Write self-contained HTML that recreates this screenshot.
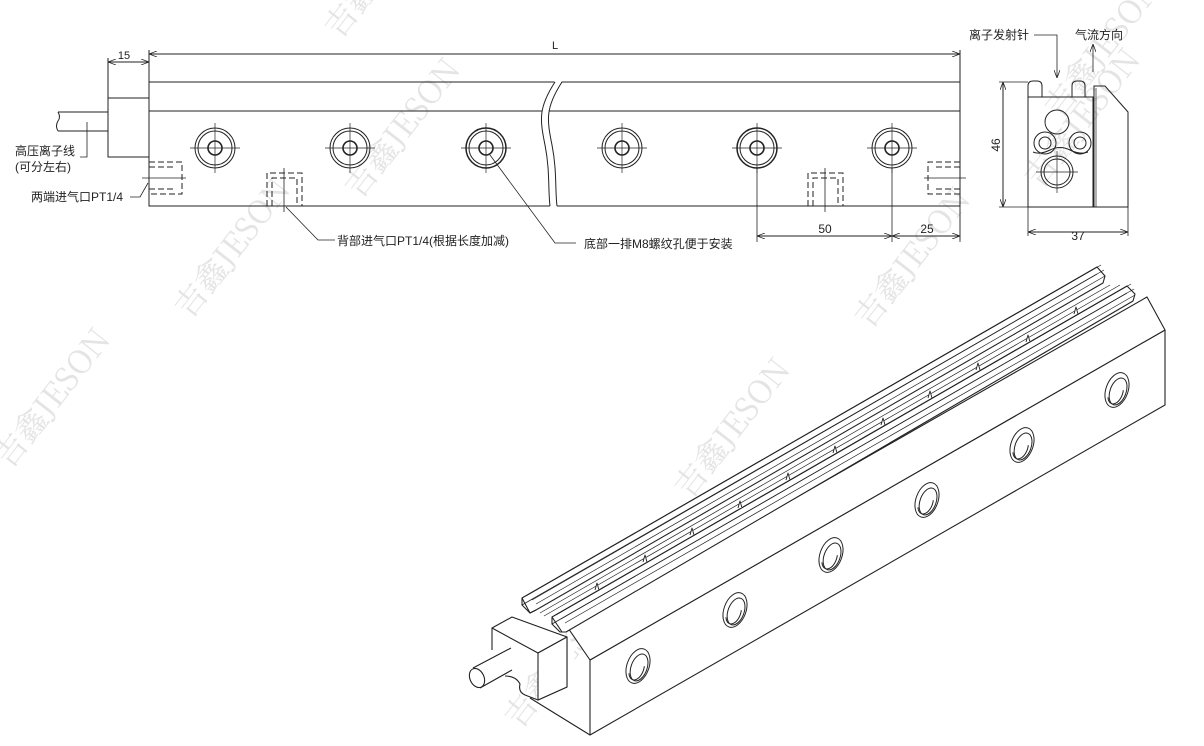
<!DOCTYPE html>
<html><head><meta charset="utf-8"><style>
html,body{margin:0;padding:0;background:#fff;}
svg{display:block;font-family:"Liberation Sans","Noto Sans CJK SC",sans-serif;}
</style></head><body>
<svg width="1204" height="746" viewBox="0 0 1204 746" xmlns="http://www.w3.org/2000/svg">
<defs>
<marker id="ar" markerWidth="8" markerHeight="6" refX="8" refY="3" orient="auto-start-reverse" markerUnits="userSpaceOnUse"><path d="M0,0 L8,3 L0,6" fill="none" stroke="#222" stroke-width="0.8"/></marker>
</defs>
<!-- watermarks -->
<g fill="#e4e4e4" font-family="'Noto Serif CJK SC','Liberation Serif',serif" font-size="32">
<text transform="translate(10,470) rotate(-52)">吉鑫JESON</text>
<text transform="translate(190,320) rotate(-52)">吉鑫JESON</text>
<text transform="translate(360,200) rotate(-52)">吉鑫JESON</text>
<text transform="translate(340,40) rotate(-52)">吉鑫JESON</text>
<text transform="translate(690,500) rotate(-52)">吉鑫JESON</text>
<text transform="translate(870,330) rotate(-52)">吉鑫JESON</text>
<text transform="translate(1040,190) rotate(-52)">吉鑫JESON</text>
<text transform="translate(1060,120) rotate(-52)">吉鑫JESON</text>
<text transform="translate(520,730) rotate(-52)">吉鑫JESON</text>
</g>

<g stroke="#222" stroke-width="1" fill="none">
<line x1="149" y1="54" x2="960" y2="54" marker-start="url(#ar)" marker-end="url(#ar)"/>
<line x1="149" y1="50" x2="149" y2="82"/>
<line x1="960" y1="50" x2="960" y2="82"/>
<line x1="108" y1="62" x2="149" y2="62" marker-start="url(#ar)" marker-end="url(#ar)"/>
<line x1="108" y1="58" x2="108" y2="98"/>
<rect x="149" y="82" width="811" height="124"/>
<line x1="149" y1="111" x2="960" y2="111"/>
<rect x="108" y="98" width="41" height="59"/>
<line x1="58" y1="112" x2="108" y2="112"/>
<line x1="58" y1="131" x2="108" y2="131"/>
<path d="M58 112 q3 5 0 9 q-3 5 0 10"/>
<polyline points="87,122 87,157 80,157" stroke-width="0.8"/>
<g stroke-dasharray="6,3">
<polyline points="149,162 182,162 182,194 149,194"/>
<polyline points="149,167 176,167"/>
<polyline points="149,189 176,189"/>
<polyline points="960,162 928,162 928,194 960,194"/>
<polyline points="960,167 934,167"/>
<polyline points="960,189 934,189"/>
<polyline points="267,206 267,173 302,173 302,206"/>
<polyline points="272,206 272,178 297,178 297,206"/>
<polyline points="808,206 808,173 843,173 843,206"/>
<polyline points="813,206 813,178 838,178 838,206"/>
</g>
<g stroke-width="0.8">
<line x1="142" y1="178" x2="186" y2="178"/>
<line x1="924" y1="178" x2="966" y2="178"/>
<line x1="284" y1="168" x2="284" y2="212"/>
<line x1="825" y1="168" x2="825" y2="212"/>
</g>
<polyline points="148,183 140,197 130,197" stroke-width="0.8"/>
<polyline points="286,207 318,240 335,240" stroke-width="0.8"/>
<polyline points="490,155 555,243 576,243" stroke-width="0.8"/>
</g>
<g stroke="#222" fill="none" stroke-width="1">
<g transform="translate(215,148)"><circle r="20"/><circle r="17"/><circle r="7" stroke-width="1.6"/><line x1="-25" x2="25" stroke-width="0.7"/><line y1="-25" y2="25" stroke-width="0.7"/></g>
<g transform="translate(350,148)"><circle r="20"/><circle r="17"/><circle r="7" stroke-width="1.6"/><line x1="-25" x2="25" stroke-width="0.7"/><line y1="-25" y2="25" stroke-width="0.7"/></g>
<g transform="translate(486,148)"><circle r="20" stroke-width="1.5"/><circle r="17"/><circle r="7" stroke-width="1.6"/><line x1="-25" x2="25" stroke-width="0.7"/><line y1="-25" y2="25" stroke-width="0.7"/></g>
<g transform="translate(622,148)"><circle r="20"/><circle r="17"/><circle r="7" stroke-width="1.6"/><line x1="-25" x2="25" stroke-width="0.7"/><line y1="-25" y2="25" stroke-width="0.7"/></g>
<g transform="translate(757,148)"><circle r="20" stroke-width="1.5"/><circle r="17"/><circle r="7" stroke-width="1.6"/><line x1="-25" x2="25" stroke-width="0.7"/><line y1="-25" y2="25" stroke-width="0.7"/></g>
<g transform="translate(892,148)"><circle r="20"/><circle r="17"/><circle r="7" stroke-width="1.6"/><line x1="-25" x2="25" stroke-width="0.7"/><line y1="-25" y2="25" stroke-width="0.7"/></g>
<path d="M555 81 C538 108,540 120,545 145 C550 170,548 190,550 207 L557 207 C555 190,557 170,552 145 C547 120,545 108,562 81 Z" fill="#fff" stroke="none"/>
<path d="M555 82 C538 108,540 120,545 145 C550 170,548 190,550 206"/>
<path d="M562 82 C545 108,547 120,552 145 C557 170,555 190,557 206"/>
<line x1="757" y1="168" x2="757" y2="242" stroke-width="0.8"/>
<line x1="892" y1="168" x2="892" y2="242" stroke-width="0.8"/>
<line x1="960" y1="206" x2="960" y2="242" stroke-width="0.8"/>
<line x1="757" y1="236" x2="892" y2="236" marker-start="url(#ar)" marker-end="url(#ar)"/>
<line x1="892" y1="236" x2="960" y2="236" marker-start="url(#ar)" marker-end="url(#ar)"/>

<!-- end view -->
<path d="M1028 207 L1028 86 Q1028 81 1033 81 L1037 81 Q1042 81 1042 86 L1042 97 L1072 97 L1072 86 Q1072 81 1077 81 L1080 81 Q1085 81 1085 86 L1085 97 L1093 97"/>
<rect x="1028" y="97" width="65" height="110" fill="none"/>
<polyline points="1094,207 1094,86 1105,86 1128,112 1128,207 1028,207"/>
<line x1="1096" y1="88" x2="1096" y2="207" stroke-width="0.7"/>
<circle cx="1057" cy="122" r="12"/>
<circle cx="1045" cy="143" r="11"/><circle cx="1045" cy="143" r="6"/>
<circle cx="1080" cy="143" r="11"/><circle cx="1080" cy="143" r="6"/>
<path d="M1033 152 Q1040 155 1050 150 Q1060 145 1070 150 Q1080 155 1088 152"/>
<circle cx="1057" cy="172" r="16"/><circle cx="1057" cy="172" r="13"/>
<line x1="1036" y1="172" x2="1078" y2="172" stroke-width="0.7"/>
<line x1="1057" y1="151" x2="1057" y2="193" stroke-width="0.7"/>
<line x1="1003" y1="82" x2="1003" y2="207" marker-start="url(#ar)" marker-end="url(#ar)"/>
<line x1="999" y1="82" x2="1028" y2="82" stroke-width="0.8"/>
<line x1="999" y1="207" x2="1028" y2="207" stroke-width="0.8"/>
<line x1="1028" y1="232" x2="1128" y2="232" marker-start="url(#ar)" marker-end="url(#ar)"/>
<line x1="1028" y1="207" x2="1028" y2="236" stroke-width="0.8"/>
<line x1="1128" y1="207" x2="1128" y2="236" stroke-width="0.8"/>
<polyline points="1034,35 1057,35 1057,78" marker-end="url(#ar)" stroke-width="0.8"/>
<line x1="1093" y1="72" x2="1093" y2="44" marker-end="url(#ar)" stroke-width="0.8"/>
<line x1="960" y1="54" x2="960" y2="240" stroke-width="0.6"/>
</g>

<!-- 3D view -->
<g stroke="#222" fill="none" stroke-width="1.1" stroke-linejoin="round">
<path d="M568 628 L567 640 L538 653 L538 700 L522 697 Q516 692 520 685 L530 698 L590 735 Z" fill="#fff" stroke="none"/>
<polygon points="590,660 1165,330 1165,405 590,735" fill="#fff"/>
<polygon points="568,628 1147,297 1165,330 590,660" fill="#fff"/>
<polyline points="590,735 530,698"/>
<polyline points="567,637 567,687 538,700"/>
<polygon points="492,628 512,617 567,637 538,653" fill="#fff"/>
<polygon points="538,653 567,637 567,687 538,700" fill="#fff"/>
<polyline points="492,628 492,650"/>
<path d="M538 700 L525 695 Q518 692 520 684 Q516 676 505 676"/>
<polygon points="475,668 510,648 513,670 480,688" fill="#fff" stroke="none"/>
<line x1="473" y1="668" x2="511" y2="648"/>
<line x1="480" y1="688" x2="512" y2="670"/>
<ellipse cx="477" cy="678" rx="7" ry="10" transform="rotate(-25 477 678)" fill="#fff"/>
<polygon points="522,598 1097,267 1105,276 1103,283 536,610 530,613" fill="#fff"/>
<polyline points="522,598 522,605 530,613 536,610"/>
<line x1="522" y1="605" x2="1097" y2="274" stroke-width="0.8"/>
<line x1="526" y1="596" x2="1101" y2="265" stroke-width="0.7"/>
<line x1="532" y1="600" x2="1104" y2="270" stroke-width="0.7"/>
<line x1="536" y1="604" x2="1105" y2="276" stroke-width="0.7"/>
<polygon points="552,617 1127,286 1135,294 1133,301 566,632 562,632" fill="#fff"/>
<polyline points="552,617 552,624 560,632 566,632"/>
<line x1="552" y1="624" x2="1127" y2="293" stroke-width="0.8"/>
<line x1="556" y1="615" x2="1131" y2="284" stroke-width="0.7"/>
<line x1="561" y1="619" x2="1134" y2="289" stroke-width="0.7"/>
<line x1="565" y1="623" x2="1135" y2="295" stroke-width="0.7"/>
<line x1="540" y1="613" x2="1110" y2="285" stroke-width="0.7"/>
<line x1="544" y1="616" x2="1120" y2="285" stroke-width="0.7"/>
<g stroke-width="0.9" fill="#fff">
<path d="M595 590 l2 -7 l2 7"/><path d="M643 562 l2 -7 l2 7"/><path d="M690 535 l2 -7 l2 7"/>
<path d="M738 508 l2 -7 l2 7"/><path d="M786 480 l2 -7 l2 7"/><path d="M833 453 l2 -7 l2 7"/>
<path d="M881 425 l2 -7 l2 7"/><path d="M928 398 l2 -7 l2 7"/><path d="M976 370 l2 -7 l2 7"/>
<path d="M1026 342 l2 -7 l2 7"/><path d="M1074 314 l2 -7 l2 7"/>
</g>
<g stroke-width="1">
<g transform="translate(638,666) rotate(20)"><ellipse rx="11" ry="18"/><ellipse cx="1.5" cy="1" rx="8" ry="14"/><path d="M-6 10 A7 12 0 0 0 6 -2"/></g>
<g transform="translate(735,610) rotate(20)"><ellipse rx="11" ry="18"/><ellipse cx="1.5" cy="1" rx="8" ry="14"/><path d="M-6 10 A7 12 0 0 0 6 -2"/></g>
<g transform="translate(831,555) rotate(20)"><ellipse rx="11" ry="18"/><ellipse cx="1.5" cy="1" rx="8" ry="14"/><path d="M-6 10 A7 12 0 0 0 6 -2"/></g>
<g transform="translate(927,500) rotate(20)"><ellipse rx="11" ry="18"/><ellipse cx="1.5" cy="1" rx="8" ry="14"/><path d="M-6 10 A7 12 0 0 0 6 -2"/></g>
<g transform="translate(1022,445) rotate(20)"><ellipse rx="11" ry="18"/><ellipse cx="1.5" cy="1" rx="8" ry="14"/><path d="M-6 10 A7 12 0 0 0 6 -2"/></g>
<g transform="translate(1117,390) rotate(20)"><ellipse rx="11" ry="18"/><ellipse cx="1.5" cy="1" rx="8" ry="14"/><path d="M-6 10 A7 12 0 0 0 6 -2"/></g>
</g>
</g>

<g fill="#222" font-size="11">
<text x="555" y="49" text-anchor="middle">L</text>
<text x="124" y="59" text-anchor="middle">15</text>
<text x="15" y="155" font-size="12">高压离子线</text>
<text x="15" y="171" font-size="12">(可分左右)</text>
<text x="31" y="201" font-size="12">两端进气口PT1/4</text>
<text x="337" y="245" font-size="12">背部进气口PT1/4(根据长度加减)</text>
<text x="584" y="248" font-size="12">底部一排M8螺纹孔便于安装</text>
<text x="825" y="233" text-anchor="middle" font-size="12">50</text>
<text x="927" y="233" text-anchor="middle" font-size="12">25</text>
<text x="969" y="39" font-size="12">离子发射针</text>
<text x="1075" y="39" font-size="12">气流方向</text>
<text x="1078" y="240" text-anchor="middle" font-size="12">37</text>
<text transform="translate(1000,145) rotate(-90)" text-anchor="middle" font-size="12">46</text>
</g>
</svg>
</body></html>
